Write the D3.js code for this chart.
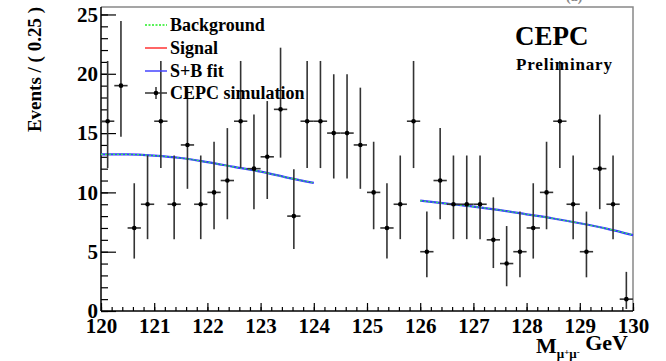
<!DOCTYPE html>
<html><head><meta charset="utf-8">
<script src="https://cdn.jsdelivr.net/npm/d3@7"></script>
<style>body{margin:0;background:#fff}svg{display:block}text{font-family:"Liberation Serif","DejaVu Serif",serif;font-weight:bold}</style>
</head><body><svg id="c" width="666" height="361"></svg>
<script>
// Data: bin centers (0.25 GeV bins) and counts
const binCenters = d3.range(40).map(i => 120.125 + i * 0.25);
const counts = [16,19,7,9,16,9,14,9,10,11,16,12,13,17,8,16,16,15,15,14,10,7,9,16,5,11,9,9,9,6,4,5,7,10,16,9,5,12,9,1];
// Poisson (Garwood) interval bounds for each count
const poissonLo = {1:0.173,4:2.086,5:2.840,6:3.620,7:4.419,8:5.232,9:6.057,10:6.891,11:7.734,12:8.585,13:9.441,14:10.30,15:11.17,16:12.05,17:12.93,19:14.69};
const poissonHi = {1:3.300,4:7.163,5:8.382,6:9.584,7:10.77,8:11.95,9:13.11,10:14.27,11:15.42,12:16.56,13:17.70,14:18.83,15:19.96,16:21.08,17:22.20,19:24.44};
// Fit curves (sidebands)
const fitLowX = [120,120.5,121,121.5,122,122.5,123,123.5,124];
const fitLowY = [13.2,13.2,13.1,12.9,12.55,12.15,11.75,11.25,10.8];
const fitHighX = [126,126.5,127,127.5,128,128.5,129,129.5,130];
const fitHighY = [9.3,9.05,8.8,8.5,8.15,7.8,7.4,6.95,6.4];
const xTicks = d3.range(120,131,1);
const yTicks = [0,5,10,15,20,25];
const legendLabels = ["Background","Signal","S+B fit","CEPC simulation"];

const svg = d3.select("#c");
const L=101,R=633,T=7,B=311;
const x = d3.scaleLinear([120,130],[L,R]);
const y = d3.scaleLinear([0,25.63],[B,T]);

// frame top/right
svg.append("path").attr("d",`M${L},${T}H${R}V${B}`).attr("fill","none").attr("stroke","#888").attr("stroke-width",1.5);

// minor ticks
svg.append("g").attr("transform",`translate(0,${B})`)
  .call(d3.axisBottom(x).tickValues(d3.range(120,130.01,0.2)).tickSize(-4).tickFormat(""))
  .call(g=>g.select(".domain").remove()).selectAll("line").attr("stroke","#000").attr("stroke-width",1.2);
svg.append("g").attr("transform",`translate(${L},0)`)
  .call(d3.axisLeft(y).tickValues(d3.range(0,25.5,1)).tickSize(-7).tickFormat(""))
  .call(g=>g.select(".domain").remove()).selectAll("line").attr("stroke","#000").attr("stroke-width",1.2);

// major axes
const gx = svg.append("g").attr("transform",`translate(0,${B})`)
  .call(d3.axisBottom(x).tickValues(xTicks).tickSize(-8).tickPadding(7).tickFormat(d3.format("d")));
gx.select(".domain").attr("d",`M${L},0H${R}`).attr("stroke","#000").attr("stroke-width",1.5);
gx.selectAll("line").attr("stroke","#000").attr("stroke-width",1.2);
gx.selectAll("text").attr("font-size",21).attr("fill","#000").style("font-family",'"Liberation Serif",serif').style("font-weight","bold");

const gy = svg.append("g").attr("transform",`translate(${L},0)`)
  .call(d3.axisLeft(y).tickValues(yTicks).tickSize(-15).tickPadding(3).tickFormat(d3.format("d")));
gy.select(".domain").attr("d",`M0,${T}V${B}`).attr("stroke","#000").attr("stroke-width",1.5);
gy.selectAll("line").attr("stroke","#000").attr("stroke-width",1.2);
gy.selectAll("text").attr("font-size",21).attr("fill","#000").style("font-family",'"Liberation Serif",serif').style("font-weight","bold");

// fit curves
const line = d3.line().x(d=>x(d[0])).y(d=>y(d[1])).curve(d3.curveMonotoneX);
[[fitLowX,fitLowY],[fitHighX,fitHighY]].forEach(([xs,ys])=>{
  const pts = xs.map((v,i)=>[v,ys[i]]);
  svg.append("path").attr("d",line(pts)).attr("fill","none").attr("stroke","#3a3aff").attr("stroke-width",2.2);
  svg.append("path").attr("d",line(pts)).attr("fill","none").attr("stroke","#33ee55").attr("stroke-width",1.2).attr("stroke-dasharray","2,2");
});

// data points
const hw = (x(120.25)-x(120))/2;
const pg = svg.append("g");
binCenters.forEach((c,i)=>{
  const n = counts[i], cx = x(c);
  pg.append("line").attr("x1",cx).attr("x2",cx).attr("y1",y(poissonLo[n])).attr("y2",y(poissonHi[n])).attr("stroke","#333").attr("stroke-width",1.6);
  pg.append("line").attr("x1",cx-hw).attr("x2",cx+hw).attr("y1",y(n)).attr("y2",y(n)).attr("stroke","#333").attr("stroke-width",1.6);
  pg.append("circle").attr("cx",cx).attr("cy",y(n)).attr("r",2.3).attr("fill","#000");
});

// legend
const lg = svg.append("g");
const ly = [25,48,71,93];
lg.append("line").attr("x1",145).attr("x2",167).attr("y1",ly[0]).attr("y2",ly[0]).attr("stroke","#22ee22").attr("stroke-width",1.3).attr("stroke-dasharray","2,1.5");
lg.append("line").attr("x1",145).attr("x2",167).attr("y1",ly[1]).attr("y2",ly[1]).attr("stroke","#ff3333").attr("stroke-width",1.5);
lg.append("line").attr("x1",145).attr("x2",167).attr("y1",ly[2]).attr("y2",ly[2]).attr("stroke","#4444ff").attr("stroke-width",1.5);
lg.append("line").attr("x1",145).attr("x2",167).attr("y1",ly[3]).attr("y2",ly[3]).attr("stroke","#333").attr("stroke-width",1.5);
lg.append("line").attr("x1",156).attr("x2",156).attr("y1",ly[3]-6).attr("y2",ly[3]+6).attr("stroke","#333").attr("stroke-width",1.5);
lg.append("circle").attr("cx",156).attr("cy",ly[3]).attr("r",2.3).attr("fill","#000");
legendLabels.forEach((t,i)=>lg.append("text").attr("x",170).attr("y",ly[i]+6).attr("font-size",18).text(t));

// CEPC labels
svg.append("text").attr("x",515).attr("y",45).attr("font-size",27).text("CEPC");
svg.append("text").attr("x",516).attr("y",70).attr("font-size",17).attr("textLength",96).text("Preliminary");
svg.append("text").attr("x",566).attr("y",1).attr("font-size",14).attr("fill","#888").text("(a)");

// axis titles
svg.append("text").attr("transform","translate(41,7) rotate(-90)").attr("text-anchor","end").attr("font-size",19).text("Events / ( 0.25 )");
const xt = svg.append("text").attr("x",628).attr("y",353).attr("text-anchor","end").attr("font-size",22);
xt.append("tspan").text("M");
xt.append("tspan").attr("font-size",13).attr("dy",5).text("μ");
xt.append("tspan").attr("font-size",9).attr("dy",-3).text("+");
xt.append("tspan").attr("font-size",13).attr("dy",3).text("μ");
xt.append("tspan").attr("font-size",9).attr("dy",-3).text("-");
xt.append("tspan").attr("dy",-5).text(" GeV");
</script></body></html>
